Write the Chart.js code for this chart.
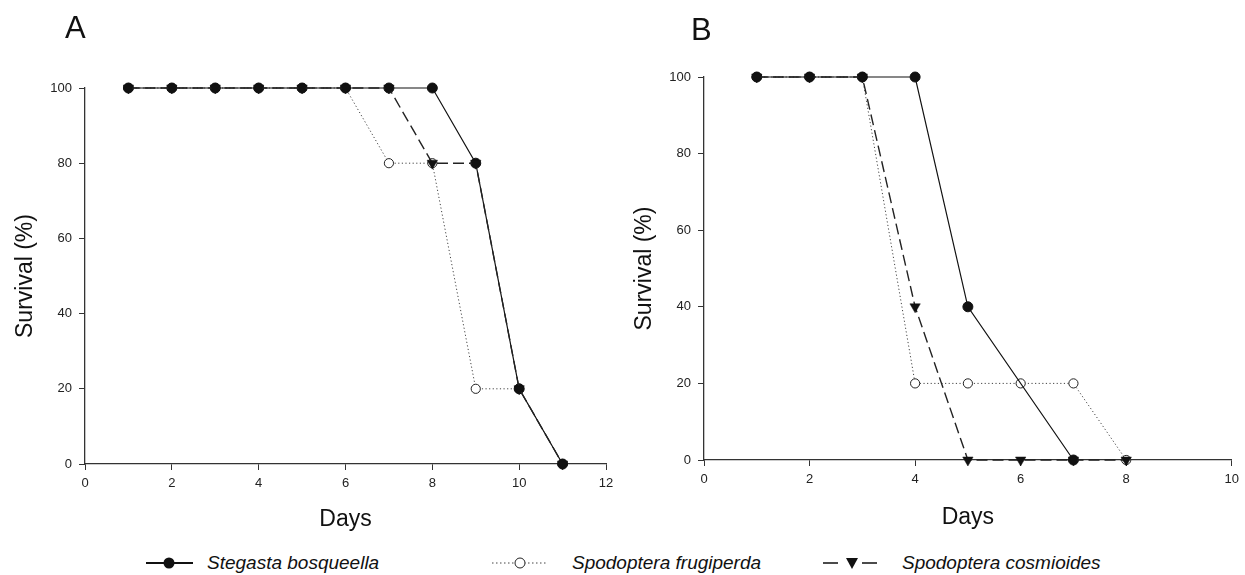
<!DOCTYPE html>
<html><head><meta charset="utf-8">
<script src="https://cdn.jsdelivr.net/npm/chart.js@4.4.1/dist/chart.umd.min.js"></script>
<style>
html,body{margin:0;padding:0;background:#fff;width:1245px;height:575px;overflow:hidden;position:relative;font-family:"Liberation Sans",Arial,sans-serif;}
#wa{position:absolute;left:0;top:0;width:620px;height:540px;}
#wb{position:absolute;left:620px;top:0;width:625px;height:540px;}
.panel{position:absolute;font-size:31px;color:#111;line-height:31px;}
.leg{position:absolute;top:551px;font-style:italic;font-size:19px;color:#111;line-height:24px;white-space:nowrap;}
#legsvg{position:absolute;left:0;top:540px;}
</style></head>
<body>
<div id="wa"><canvas id="ca"></canvas></div>
<div id="wb"><canvas id="cb"></canvas></div>
<div class="panel" style="left:65px;top:12px;">A</div>
<div class="panel" style="left:691px;top:14px;">B</div>
<svg id="legsvg" width="1245" height="35">
  <line x1="146" y1="23" x2="193" y2="23" stroke="#111" stroke-width="2"/>
  <circle cx="169" cy="23" r="5.5" fill="#111"/>
  <line x1="492" y1="23" x2="548" y2="23" stroke="#444" stroke-width="1" stroke-dasharray="1.5,2.5"/>
  <circle cx="520" cy="23" r="5" fill="#fff" stroke="#222" stroke-width="1"/>
  <line x1="823" y1="23" x2="877" y2="23" stroke="#111" stroke-width="1.6" stroke-dasharray="15,24"/>
  <polygon points="846,18 858,18 852,29" fill="#111"/>
</svg>
<div class="leg" style="left:207px;">Stegasta bosqueella</div>
<div class="leg" style="left:572px;">Spodoptera frugiperda</div>
<div class="leg" style="left:902px;">Spodoptera cosmioides</div>
<script>
// ---- data ----
const daysA = [1,2,3,4,5,6,7,8,9,10,11];
const stegastaA   = [100,100,100,100,100,100,100,100,80,20,0];
const frugiperdaA = [100,100,100,100,100,100,80,80,20,20,0];
const cosmioidesA = [100,100,100,100,100,100,100,80,80,20,0];

const daysB = [1,2,3,4,5,6,7,8];
const stegastaB   = [100,100,100,100,40,null,0,null];   // no marker drawn at day 6
const frugiperdaB = [100,100,100,20,20,20,20,0];
const cosmioidesB = [100,100,100,40,0,0,0,0];

const xTicksA = [0,2,4,6,8,10,12];
const xTicksB = [0,2,4,6,8,10];
const yTicks  = [0,20,40,60,80,100];

const seriesNames = ['Stegasta bosqueella','Spodoptera frugiperda','Spodoptera cosmioides'];

// ---- helpers ----
const toXY = (xs, ys) => xs.map((x,i)=>({x:x, y:ys[i]}));
const FONT = '"Liberation Sans", Arial, sans-serif';
const AXC = '#333';

function makeDatasets(days, s, f, c){
  return [
    {label: seriesNames[0], order:2, data: toXY(days,s), borderColor:'#111', borderWidth:1.2, spanGaps:true,
     pointStyle:'circle', pointRadius:5, pointBackgroundColor:'#111', pointBorderColor:'#111', pointBorderWidth:1, clip:false},
    {label: seriesNames[1], order:3, data: toXY(days,f), borderColor:'#444', borderWidth:1, borderDash:[1.2,2.4],
     pointStyle:'circle', pointRadius:4.6, pointBackgroundColor:'#fff', pointBorderColor:'#222', pointBorderWidth:1, clip:false},
    {label: seriesNames[2], order:1, data: toXY(days,c), borderColor:'#222', borderWidth:1.4, borderDash:[11,5],
     pointStyle:'triangle', pointRotation:180, pointRadius:6, pointBackgroundColor:'#111', pointBorderColor:'#111', pointBorderWidth:0.5, clip:false}
  ];
}

function makeChart(id, datasets, xTicks, xMax, opts){
  return new Chart(document.getElementById(id), {
    type:'line',
    data:{datasets: datasets},
    options:{
      responsive:true, maintainAspectRatio:false, animation:false,
      layout:{padding:{left:0, top:opts.top, right:opts.right, bottom:0}},
      plugins:{legend:{display:false}, tooltip:{enabled:false}},
      elements:{line:{tension:0}},
      scales:{
        x:{type:'linear', min:0, max:xMax,
           afterBuildTicks: s => { s.ticks = xTicks.map(v=>({value:v})); },
           afterFit: s => { s.height = opts.xh; },
           grid:{display:true, drawOnChartArea:false, drawTicks:true, tickLength:6, color:AXC, lineWidth:1},
           border:{display:true, color:AXC, width:1.3},
           ticks:{font:{family:FONT, size:13}, color:'#222', padding:6, maxRotation:0},
           title:{display:true, text:'Days', font:{family:FONT, size:23}, color:'#111', padding:{top:0,bottom:opts.xtp}}
        },
        y:{type:'linear', min:0, max:100,
           afterBuildTicks: s => { s.ticks = yTicks.map(v=>({value:v})); },
           afterFit: s => { s.width = opts.yw; },
           grid:{display:true, drawOnChartArea:false, drawTicks:true, tickLength:6, color:AXC, lineWidth:1},
           border:{display:true, color:AXC, width:1.3},
           ticks:{font:{family:FONT, size:13}, color:'#222', padding:7},
           title:{display:true, text:'Survival (%)', font:{family:FONT, size:23}, color:'#111', padding:{top:opts.ytp,bottom:0}}
        }
      }
    }
  });
}

makeChart('ca', makeDatasets(daysA, stegastaA, frugiperdaA, cosmioidesA), xTicksA, 12,
  {top:88, right:14, xh:76, yw:85, xtp:7, ytp:12});
makeChart('cb', makeDatasets(daysB, stegastaB, frugiperdaB, cosmioidesB), xTicksB, 10,
  {top:77, right:9.5, xh:80, yw:84, xtp:9, ytp:11});
</script>
</body></html>
